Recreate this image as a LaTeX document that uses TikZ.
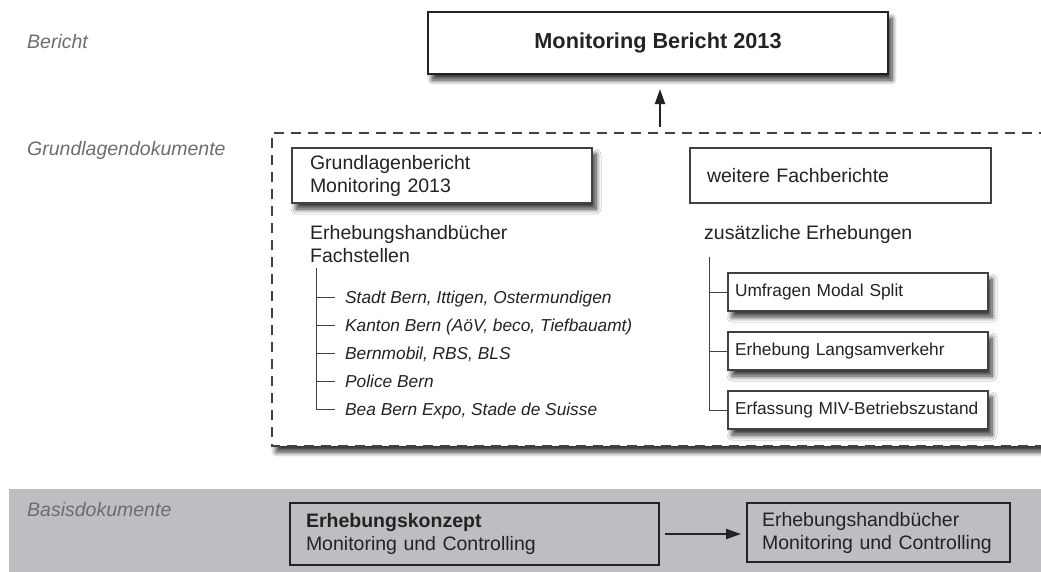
\documentclass[tikz,border=0pt]{standalone}
\usepackage{fontspec}
\setmainfont{Liberation Sans}
\usetikzlibrary{arrows.meta,shadows.blur}
\definecolor{bandgray}{RGB}{189,190,194}
\definecolor{labelgray}{RGB}{108,109,112}
\definecolor{inkgray}{RGB}{35,35,35}
\definecolor{linegray}{RGB}{65,65,65}
\newcommand\bodysize{\fontsize{19.5}{23}\selectfont}
\newcommand\itemsize{\fontsize{17.3}{21}\selectfont}
\newcommand\titlesize{\fontsize{21.7}{26}\selectfont}

\begin{document}
\begin{tikzpicture}[x=1pt,y=-1pt,font=\bodysize,text=inkgray]
      \tikzstyle{cat label}=[font=\bodysize\itshape,text=labelgray,anchor=base west,inner sep=0]
      \tikzstyle{box}=[draw=linegray,fill=white,line width=1.3pt,inner sep=0]
      \tikzstyle{textbox}=[box,align=left]
      \tikzstyle{shadowed}=[blur shadow={shadow xshift=4pt,shadow yshift=-6pt,shadow blur radius=5pt,shadow blur steps=8,shadow opacity=80}]
      \tikzstyle{basis box}=[draw=inkgray,line width=2pt,align=left,inner sep=0]
      \tikzstyle{tree line}=[draw=linegray,line width=1pt]
      \tikzstyle{arrow}=[draw=inkgray,line width=2pt,-{Triangle[length=15pt,width=10pt]}]
      \tikzstyle{list item}=[font=\itemsize\itshape,anchor=west,inner ysep=0,inner xsep=10pt,text height=12.5pt,text depth=0pt]

      \useasboundingbox (0,0) rectangle (1041,571);
      \clip (0,0) rectangle (1041,571);
      \fill[bandgray] (9,489) rectangle (1045,575);

      \node[cat label] (lab1) at (27,48) {Bericht};
      \node[cat label] (lab2) at (27,155) {Grundlagendokumente};
      \node[cat label] (lab3) at (27,516) {Basisdokumente};

      \fill[shadowed,white] (272,133) rectangle (1100,446);
      \draw[draw=linegray,line width=1.3pt,dash pattern=on 10pt off 7pt] (1100,133) -| (272,446) -- (1100,446);
      \node[box,shadowed,draw=inkgray,line width=2pt,minimum width=460pt,minimum height=62pt,font=\titlesize\bfseries] (top) at (658,43) {Monitoring Bericht 2013};
      \coordinate (foot) at (660,127);
      \draw[arrow,shorten >=14pt] (foot) -- (foot |- top.south);

      \node[textbox,shadowed,text width=264pt,inner xsep=18pt,minimum height=55pt] (grund) at (442,175.5) {Grundlagenbericht\\Monitoring 2013};
      \node[textbox,text width=267pt,inner xsep=17pt,minimum height=55pt] (weitere) at (840.5,175.5) {weitere Fachberichte};

      \node[anchor=north west,align=left,inner sep=0] (hb) at (310,225) {Erhebungshandbücher\\Fachstellen};
      \coordinate (lt) at (316,268);
      \node[list item] (i1) at (335,297) {Stadt Bern, Ittigen, Ostermundigen};
      \node[list item] (i2) at (335,325) {Kanton Bern (AöV, beco, Tiefbauamt)};
      \node[list item] (i3) at (335,353) {Bernmobil, RBS, BLS};
      \node[list item] (i4) at (335,381) {Police Bern};
      \node[list item] (i5) at (335,409) {Bea Bern Expo, Stade de Suisse};
      \draw[tree line] (lt) |- (i5.west);
      \foreach \n in {1,...,4} \draw[tree line] (lt |- i\n.west) -- (i\n.west);

      \node[anchor=north west,inner sep=0] (zus) at (704,225) {zusätzliche Erhebungen};
      \coordinate (rt) at (709,257);
      \node[textbox,shadowed,text width=246pt,inner xsep=7pt,minimum height=38pt,font=\itemsize] (s1) at (858,292) {Umfragen Modal Split};
      \node[textbox,shadowed,text width=246pt,inner xsep=7pt,minimum height=38pt,font=\itemsize] (s2) at (858,351) {Erhebung Langsamverkehr};
      \node[textbox,shadowed,text width=246pt,inner xsep=7pt,minimum height=38pt,font=\itemsize] (s3) at (858,410) {Erfassung MIV-Betriebszustand};
      \draw[tree line] (rt) |- (s3.west);
      \foreach \n in {1,2} \draw[tree line] (rt |- s\n.west) -- (s\n.west);

      \node[basis box,text width=337pt,inner xsep=16pt,minimum height=62pt] (konzept) at (474.5,534) {\textbf{Erhebungskonzept}\\Monitoring und Controlling};
      \node[basis box,text width=233pt,inner xsep=15pt,minimum height=59pt] (handb) at (878.5,532.5) {Erhebungshandbücher\\Monitoring und Controlling};
      \draw[arrow,shorten <=5pt,shorten >=5pt] (konzept.east) -- (konzept.east -| handb.west);
\end{tikzpicture}
\end{document}
